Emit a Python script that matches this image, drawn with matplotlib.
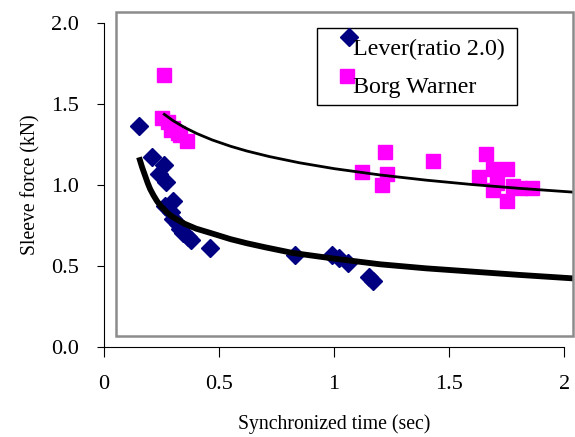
import matplotlib

matplotlib.use("Agg")
import matplotlib.pyplot as plt
from matplotlib.patches import Rectangle

plt.rcParams["font.family"] = ["Liberation Serif", "DejaVu Serif"]

# ---- data ------------------------------------------------------------------
lever_x = [0.15, 0.21, 0.26, 0.24, 0.27, 0.30, 0.265, 0.29, 0.30, 0.32, 0.33,
           0.345, 0.365, 0.38, 0.46, 0.83, 0.99, 1.02, 1.06, 1.15, 1.17]
lever_y = [1.36, 1.17, 1.12, 1.07, 1.02, 0.90, 0.87, 0.83, 0.79, 0.76, 0.73,
           0.70, 0.68, 0.66, 0.61, 0.57, 0.57, 0.55, 0.52, 0.43, 0.41]

borg_x = [0.26, 0.25, 0.28, 0.30, 0.29, 0.32, 0.33, 0.36, 1.12, 1.22, 1.23,
          1.21, 1.43, 1.66, 1.63, 1.69, 1.75, 1.71, 1.69, 1.75, 1.78, 1.81, 1.86]
borg_y = [1.68, 1.41, 1.39, 1.35, 1.34, 1.32, 1.31, 1.27, 1.08, 1.20, 1.07,
          1.00, 1.15, 1.19, 1.05, 1.10, 1.10, 1.01, 0.97, 0.90, 0.99, 0.98, 0.98]

# trendlines as drawn in the reference (traced, they run past x = 2)
lever_trend_x = [0.152, 0.165, 0.18, 0.19, 0.20, 0.215, 0.23, 0.245, 0.26,
                 0.28, 0.30, 0.35, 0.40, 0.47, 0.55, 0.62, 0.70, 0.82, 1.0,
                 1.2, 1.4, 1.6, 1.8, 2.04]
lever_trend_y = [1.17, 1.11, 1.05, 1.01, 0.975, 0.935, 0.90, 0.872, 0.85,
                 0.822, 0.80, 0.76, 0.73, 0.70, 0.665, 0.64, 0.615, 0.58,
                 0.545, 0.51, 0.485, 0.465, 0.445, 0.423]
borg_trend_x = [0.257, 0.30, 0.35, 0.404, 0.47, 0.55, 0.62, 0.72, 0.85, 1.0,
                1.2, 1.4, 1.6, 1.8, 2.04]
borg_trend_y = [1.44, 1.396, 1.354, 1.316, 1.277, 1.238, 1.209, 1.174, 1.136,
                1.10, 1.061, 1.029, 1.002, 0.979, 0.955]

x_ticks = [0, 0.5, 1, 1.5, 2]
x_tick_labels = ["0", "0.5", "1", "1.5", "2"]
y_ticks = [0.0, 0.5, 1.0, 1.5, 2.0]

fig = plt.figure(figsize=(5.75, 4.37), dpi=100)
ax = fig.add_axes([0.181, 0.206, 0.800, 0.742])

# Excel plot-area frame, offset from the axes
fig.patches.append(Rectangle((116 / 575, 1 - 336 / 437), 457 / 575, 324 / 437,
                             transform=fig.transFigure, fill=False,
                             edgecolor="#8c8c8c", linewidth=1.8, zorder=0))

ax.plot(lever_x, lever_y, "D", color="#000080", ms=9.5, mec="#000080")
ax.plot(borg_x, borg_y, "s", color="#ff00ff", ms=10.5, mec="#ff00ff")

ax.plot(lever_trend_x, lever_trend_y, color="black", lw=4.2, clip_on=False,
        solid_capstyle="butt", solid_joinstyle="round")
ax.plot(borg_trend_x, borg_trend_y, color="black", lw=2, clip_on=False,
        solid_capstyle="butt", solid_joinstyle="round")

ax.set_xlim(0, 2)
ax.set_ylim(0, 2)
ax.set_xticks(x_ticks, x_tick_labels)
ax.set_yticks(y_ticks, [f"{v:.1f}" for v in y_ticks])
ax.patch.set_visible(False)
for side in ("top", "right"):
    ax.spines[side].set_visible(False)
ax.tick_params(axis="x", direction="out", length=7, pad=13, labelsize=16)
ax.tick_params(axis="y", direction="out", length=5, pad=13, labelsize=16)
ax.set_xlabel("Synchronized time (sec)", fontsize=14.2, labelpad=15)
ax.set_ylabel("Sleeve force (kN)", fontsize=14.2, labelpad=8)

# legend drawn by hand to match the offset Excel markers
fig.patches.append(Rectangle((317 / 575, 1 - 105 / 437), 200 / 575, 77 / 437,
                             transform=fig.transFigure, fill=False,
                             edgecolor="black", linewidth=1.0))
fig.lines.append(plt.Line2D([349 / 575], [1 - 37 / 437], marker="D",
                            color="#000080", ms=9.5, transform=fig.transFigure))
fig.lines.append(plt.Line2D([347 / 575], [1 - 76 / 437], marker="s",
                            color="#ff00ff", ms=10.5, transform=fig.transFigure))
fig.text(353 / 575, 1 - 49 / 437, "Lever(ratio 2.0)", fontsize=17.3, va="center")
fig.text(353 / 575, 1 - 87 / 437, "Borg Warner", fontsize=17.3, va="center")

fig.savefig("out.png", dpi=100)
